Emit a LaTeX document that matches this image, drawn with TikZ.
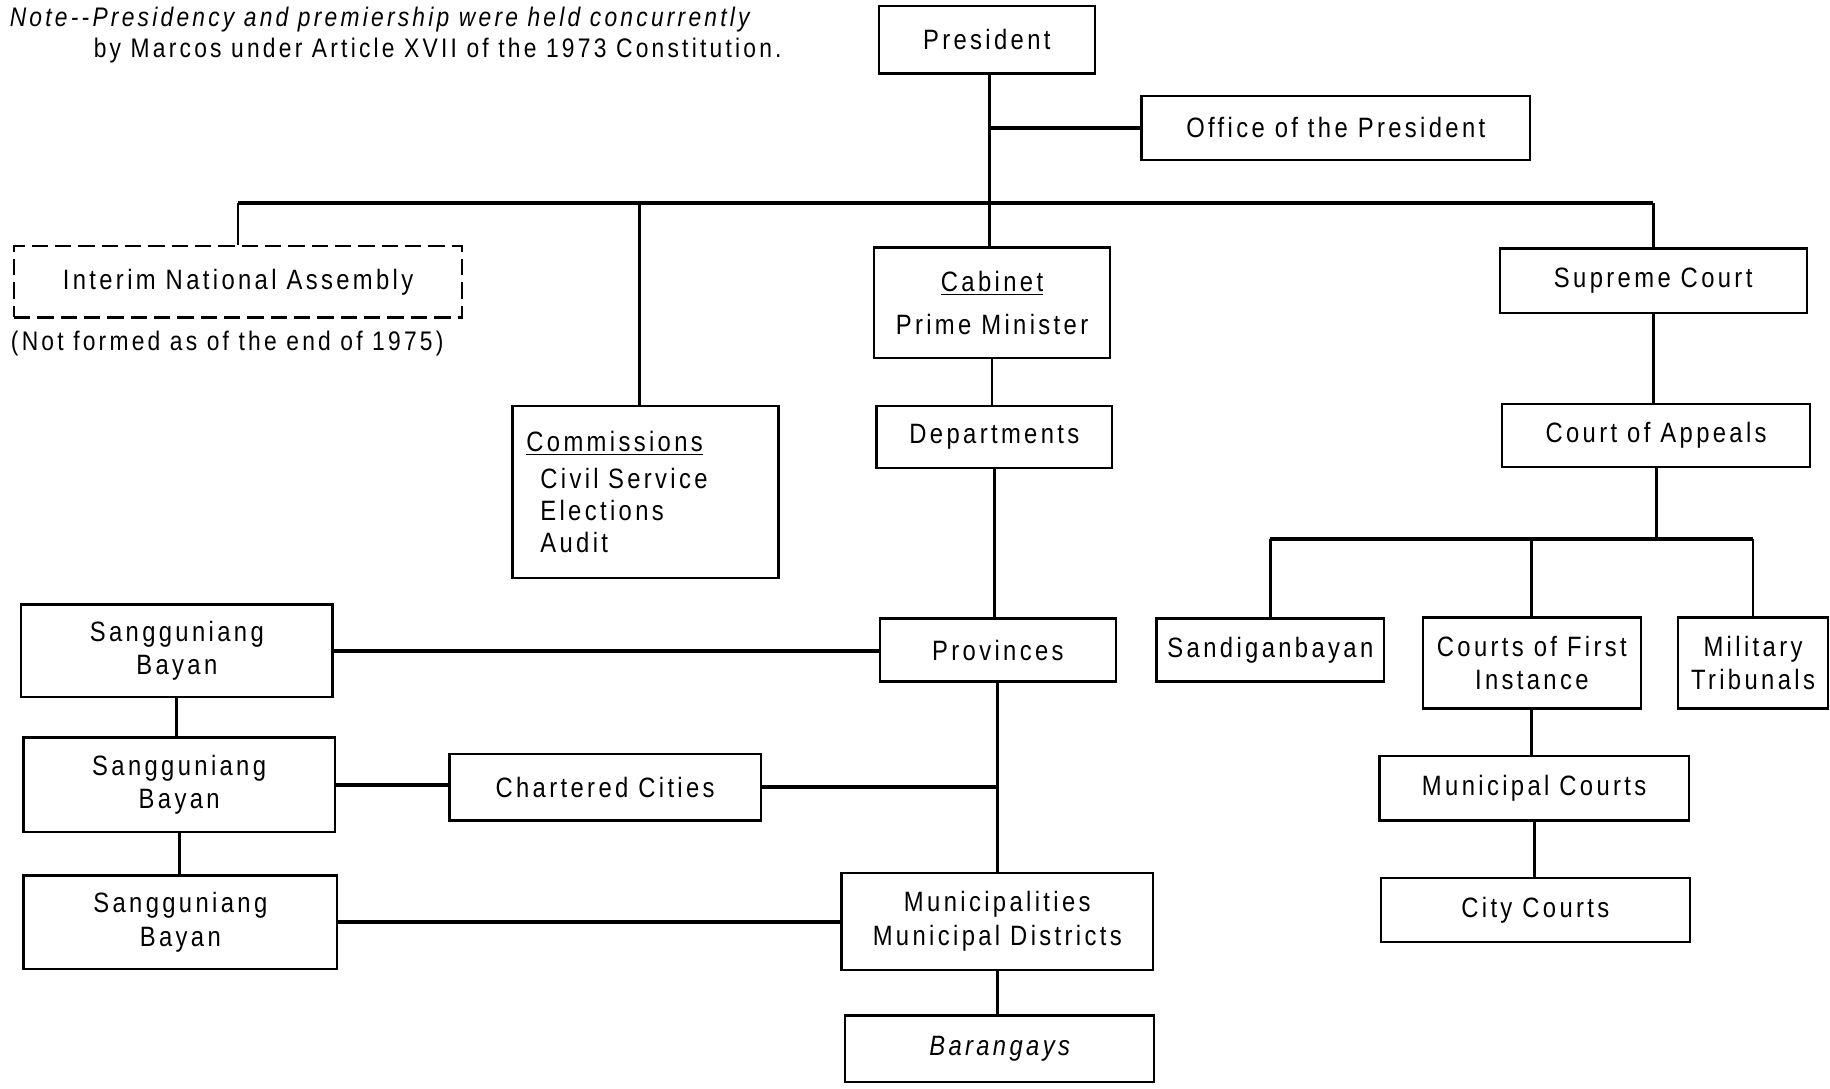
\documentclass[tikz,border=0pt]{standalone}
\usepackage{fontspec}
\setmainfont[FakeStretch=0.85,LetterSpace=12]{Liberation Sans}
\usetikzlibrary{calc}
\begin{document}
\begin{tikzpicture}[x=0.5pt,y=-0.5pt,
  box/.style={draw, line width=1pt, rectangle, inner sep=0pt, align=center, font=\fontsize{12}{14.4}\selectfont},
  dbox/.style={box, dash pattern=on 7pt off 3pt},
  txt/.style={inner sep=0pt, anchor=west, font=\fontsize{11.5}{13.8}\selectfont},
  conn/.style={line width=1.2pt},
  hconn/.style={line width=1.8pt}]
\useasboundingbox (0,0) rectangle (1568,933);

% notes
\node[txt] (note1) at (8,17) {\itshape Note{-}{-}Presidency and premiership were held concurrently};
\node[txt] (note2) at (80,43) {by Marcos under Article XVII of the 1973 Constitution.};

% top
\node[box, minimum width=92.5pt, minimum height=29pt] (pres) at (845.5,34) {President};
\node[box, minimum width=166.5pt, minimum height=27.5pt] (office) at (1144.5,109.5) {Office of the President};
\node[dbox, minimum width=192pt, minimum height=30.5pt] (ina) at (204,241.5) {Interim National Assembly};
\node[txt] (notformed) at (9,294) {(Not formed as of the end of 1975)};
\node[box, minimum width=114pt, minimum height=73.5pt, text width=102pt, align=left, font=\fontsize{12}{13.8}\selectfont] (comm) at (553,421.5)
  {\underline{Commissions}\\[2pt]\hspace*{6pt}Civil Service\\\hspace*{6pt}Elections\\\hspace*{6pt}Audit};
\node[box, minimum width=101pt, minimum height=47.5pt] (cab) at (850,259.5) {\underline{Cabinet}\\[4pt]Prime Minister};
\node[box, minimum width=131.5pt, minimum height=27.5pt] (sc) at (1416.5,240.5) {Supreme Court};
\node[box, minimum width=101pt, minimum height=26.5pt] (dep) at (852,374.5) {Departments};
\node[box, minimum width=132pt, minimum height=27pt] (ca) at (1419,373) {Court of Appeals};

% courts
\node[box, minimum width=97.5pt, minimum height=27pt] (sand) at (1088.5,557) {Sandiganbayan};
\node[box, minimum width=93.5pt, minimum height=39pt] (cfi) at (1312.5,568) {Courts of First\\Instance};
\node[box, minimum width=64pt, minimum height=39pt] (mil) at (1502,568) {Military\\Tribunals};
\node[box, minimum width=132.5pt, minimum height=27.5pt] (mc) at (1314.5,675.5) {Municipal Courts};
\node[box, minimum width=132.5pt, minimum height=27.5pt] (cc) at (1315.5,779.5) {City Courts};

% local government
\node[box, minimum width=101pt, minimum height=27pt] (prov) at (855,557) {Provinces};
\node[box, minimum width=133.5pt, minimum height=39.5pt] (sb1) at (151.5,557.5) {Sangguniang\\Bayan};
\node[box, minimum width=133.5pt, minimum height=40.5pt] (sb2) at (153.5,672.5) {Sangguniang\\Bayan};
\node[box, minimum width=133.5pt, minimum height=28.5pt] (chc) at (518.5,674.5) {Chartered Cities};
\node[box, minimum width=134.5pt, minimum height=40pt] (sb3) at (154.5,790) {Sangguniang\\Bayan};
\node[box, minimum width=133.5pt, minimum height=41.5pt] (mun) at (854.5,789.5) {Municipalities\\Municipal Districts};
\node[box, minimum width=132.5pt, minimum height=28.5pt] (bar) at (856.5,898.5) {\itshape Barangays};

% coordinates
\coordinate (trunk) at (848,0);
\coordinate (bus) at (0,174);
\coordinate (commx) at (548,0);
\coordinate (cbus) at (0,462);

% connectors
\draw[conn] (pres.south -| trunk) -- (cab.north -| trunk);
\draw[hconn] (office.west) -- (office.west -| trunk);
\draw[conn] (ina.north) -- (ina.north |- bus);
\draw[hconn] (ina.north |- bus) -- (sc.north |- bus);
\draw[conn] (sc.north |- bus) -- (sc.north);
\draw[conn] (comm.north -| commx) -- (bus -| commx);
\draw[conn] (cab.south) -- (cab.south |- dep.north);
\draw[conn] (dep.south) -- (dep.south |- prov.north);
\draw[conn] (prov.south) -- (prov.south |- mun.north);
\draw[conn] (mun.south) -- (mun.south |- bar.north);
\draw[hconn] (sb1.east) -- (sb1.east -| prov.west);
\draw[conn] (sb1.south) -- (sb1.south |- sb2.north);
\draw[conn] (sb2.south) -- (sb2.south |- sb3.north);
\draw[hconn] (sb2.east) -- (sb2.east -| chc.west);
\draw[hconn] (chc.east) -- (chc.east -| prov.south);
\draw[hconn] (sb3.east) -- (sb3.east -| mun.west);

\draw[conn] (sc.south) -- (sc.south |- ca.north);
\draw[conn] (ca.south) -- (ca.south |- cbus);
\draw[conn] (sand.north) -- (sand.north |- cbus);
\draw[hconn] (sand.north |- cbus) -- (mil.north |- cbus);
\draw[conn] (mil.north |- cbus) -- (mil.north);
\draw[conn] (cfi.north) -- (cfi.north |- cbus);
\draw[conn] (cfi.south) -- (cfi.south |- mc.north);
\draw[conn] (mc.south) -- (mc.south |- cc.north);
\end{tikzpicture}
\end{document}
